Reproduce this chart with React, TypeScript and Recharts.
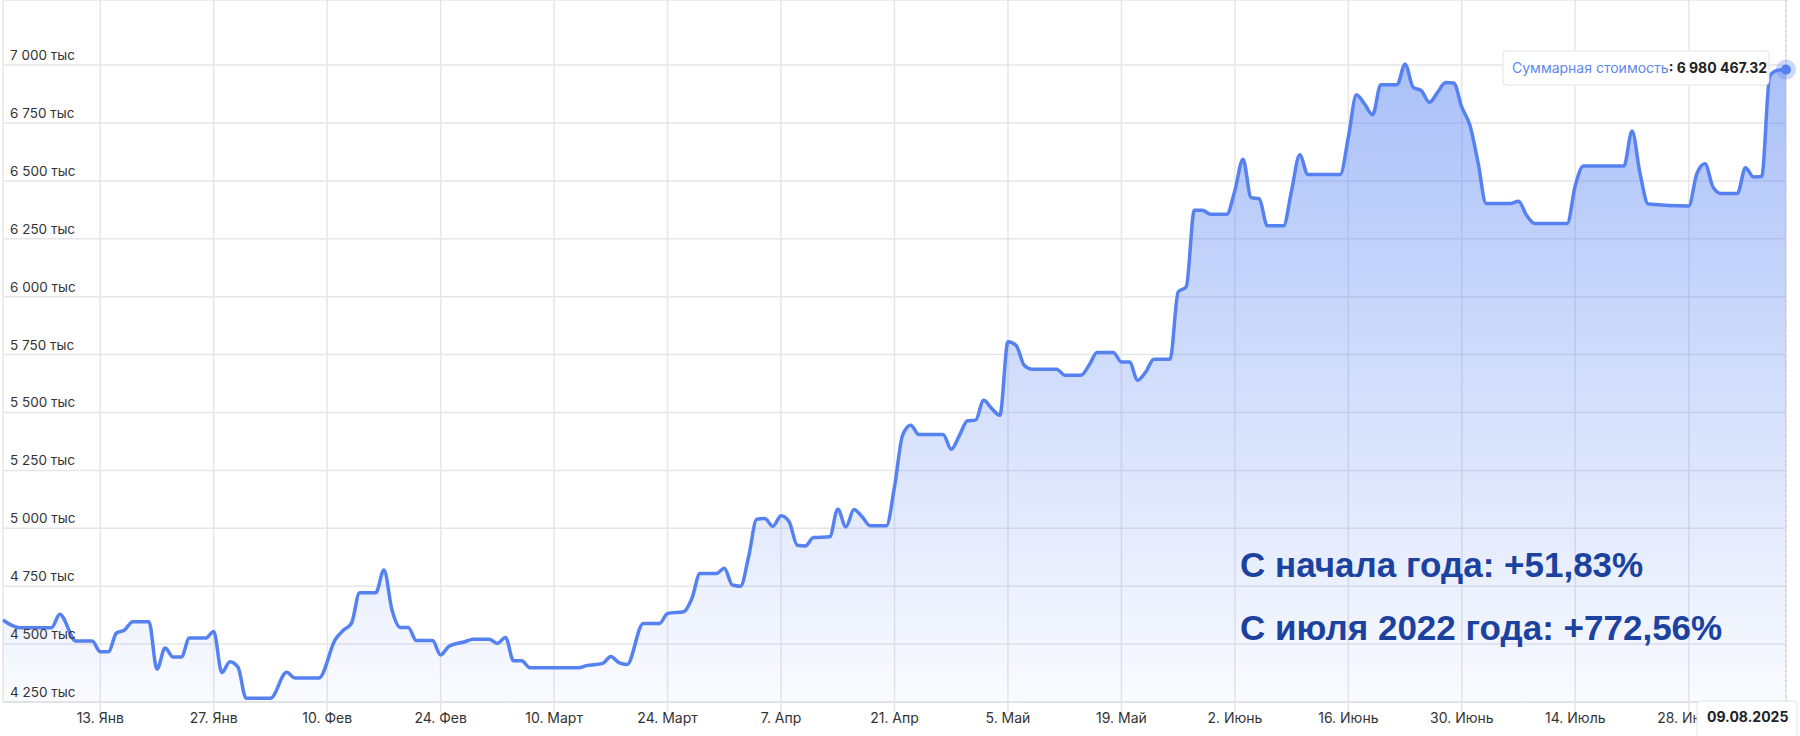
import React from 'react'
import {
  AreaChart,
  Area,
  XAxis,
  YAxis,
  CartesianGrid,
  ReferenceLine,
  ReferenceDot,
} from 'recharts'

// day index counted from 1 Jan 2025 (0) to 9 Aug 2025 (220)
const dayIndex = [
  0, 2, 6, 7, 9, 11, 12, 13, 14, 15, 16, 18, 19, 20, 21, 22, 23, 25, 26, 27, 28, 29, 30, 33, 35, 36, 39,
  41, 42, 43, 44, 46, 47, 48, 49, 50, 51, 53, 54, 55, 57, 58, 60, 61, 62, 63, 64, 65, 71, 72, 74, 75, 76,
  77, 79, 81, 82, 84, 85, 86, 88, 89, 90, 91, 92, 93, 94, 95, 96, 97, 98, 99, 100, 102, 103, 104, 105,
  106, 107, 109, 110, 111, 112, 113, 116, 117, 118, 119, 120, 121, 122, 123, 124, 125, 126, 127, 130,
  131, 133, 134, 135, 137, 138, 139, 140, 141, 142, 144, 145, 146, 147, 148, 149, 151, 152, 153, 154,
  155, 156, 158, 159, 160, 161, 165, 166, 167, 168, 169, 170, 172, 173, 174, 175, 176, 177, 178, 179,
  180, 181, 182, 183, 186, 187, 188, 189, 193, 194, 195, 200, 201, 202, 203, 208, 209, 210, 211, 212,
  214, 215, 216, 217, 218, 219, 220,
]

// total portfolio value, thousands of rubles
const totalValueK = [
  4604, 4571, 4571, 4629, 4513, 4513, 4467, 4467, 4548, 4561, 4597, 4597, 4392, 4483, 4444, 4444, 4526,
  4526, 4554, 4377, 4424, 4400, 4266, 4266, 4378, 4354, 4354,
  4520, 4560, 4590, 4722, 4722, 4820, 4647, 4572, 4572, 4515, 4515, 4453, 4490, 4510, 4521, 4521, 4503,
  4529, 4428, 4428, 4398, 4398, 4407, 4417, 4446, 4420,
  4412, 4589, 4589, 4632, 4640, 4697, 4805, 4805, 4827, 4755, 4750, 4877, 5039, 5042, 5009, 5054, 5028,
  4927, 4924, 4960, 4963, 5083, 5006, 5081,
  5050, 5011, 5011, 5179, 5402, 5445, 5405, 5405, 5341, 5400, 5464, 5467, 5553, 5517, 5488, 5805, 5790,
  5704, 5687, 5687,
  5661, 5661, 5704, 5759, 5759, 5718, 5718, 5639, 5675, 5730, 5730, 6020, 6043, 6373, 6373, 6356, 6356,
  6459, 6593, 6428,
  6423, 6306, 6306, 6459, 6613, 6528, 6528, 6689, 6872, 6832, 6786, 6915, 6915, 7004, 6904, 6890, 6839,
  6882, 6925, 6923,
  6818, 6740, 6580, 6402, 6402, 6412, 6351, 6316, 6316, 6480, 6564, 6564, 6715, 6530, 6400, 6392, 6531,
  6574, 6473, 6445,
  6445, 6557, 6517, 6519, 6954, 6978, 6980.46732,
]

const tickDays = [12, 26, 40, 54, 68, 82, 96, 110, 124, 138, 152, 166, 180, 194, 208]
const tickLabels = [
  '13. Янв', '27. Янв', '10. Фев', '24. Фев', '10. Март', '24. Март', '7. Апр', '21. Апр',
  '5. Май', '19. Май', '2. Июнь', '16. Июнь', '30. Июнь', '14. Июль', '28. Июль',
]
const yTicks = [
  4250000, 4500000, 4750000, 5000000, 5250000, 5500000, 5750000, 6000000, 6250000, 6500000,
  6750000, 7000000,
]

const seriesName = 'Суммарная стоимость'
const lastValueText = '6 980 467.32'
const lastDateText = '09.08.2025'
const notes = ['С начала года: +51,83%', 'С июля 2022 года: +772,56%']

const data = dayIndex.map((d, i) => ({ day: d, value: totalValueK[i] * 1000 }))
const last = data[data.length - 1]

const LINE = '#5581f1'
const GRID = '#e6e6ea'
const FONT = 'Inter, "Noto Sans", sans-serif'

function groupThousands(n: number): string {
  return String(Math.round(n)).replace(/\B(?=(\d{3})+(?!\d))/g, ' ')
}

function YTick({ y, payload }: any) {
  return (
    <text x={10} y={y - 5} fontSize={13.5} fill="#333" fontFamily={FONT} textAnchor="start">
      {groupThousands(payload.value / 1000)} тыс
    </text>
  )
}

function XTick({ x, payload }: any) {
  const idx = tickDays.indexOf(payload.value)
  return (
    <text x={x} y={723} fontSize={14} fill="#333" fontFamily={FONT} textAnchor="middle">
      {tickLabels[idx]}
    </text>
  )
}

export default function App() {
  return (
    <div style={{ position: 'absolute', left: 0, top: 0, width: 1800, height: 736, background: '#fff' }}>
      <AreaChart
        width={1800}
        height={736}
        data={data}
        margin={{ top: 0, right: 14, left: 3, bottom: 0 }}
      >
        <defs>
          <linearGradient id="valueFill" x1="0" y1="0" x2="0" y2="1">
            <stop offset="0%" stopColor={LINE} stopOpacity={0.5} />
            <stop offset="100%" stopColor={LINE} stopOpacity={0.03} />
          </linearGradient>
        </defs>
        <CartesianGrid stroke={GRID} strokeWidth={1.5} />
        <XAxis
          dataKey="day"
          type="number"
          domain={[0, 220]}
          ticks={tickDays}
          height={34}
          tickSize={10}
          tickLine={{ stroke: GRID, strokeWidth: 1.5 }}
          axisLine={{ stroke: '#e2e2e4', strokeWidth: 2 }}
          tick={<XTick />}
          interval={0}
        />
        <YAxis
          type="number"
          domain={[4250000, 7281000]}
          allowDataOverflow
          ticks={yTicks}
          mirror
          width={80}
          axisLine={false}
          tickLine={false}
          tick={<YTick />}
          interval={0}
        />
        <ReferenceLine x={220} stroke="#c8c8cc" strokeDasharray="2 3" />
        <Area
          type="monotone"
          dataKey="value"
          stroke={LINE}
          strokeWidth={3.5}
          fill="url(#valueFill)"
          fillOpacity={1}
          dot={false}
          activeDot={false}
          isAnimationActive={false}
        />
        <ReferenceDot x={last.day} y={last.value} r={10} fill={LINE} fillOpacity={0.3} stroke="none" />
        <ReferenceDot x={last.day} y={last.value} r={5} fill={LINE} stroke="none" />
      </AreaChart>
      <svg
        width={1800}
        height={736}
        style={{ position: 'absolute', left: 0, top: 0, pointerEvents: 'none' }}
      >
        <rect x={1503} y={51} width={266} height={34} rx={4} fill="#fff" fillOpacity={0.95} stroke="#e2e2e4" />
        <text x={1512} y={73} fontSize={14} fontFamily={FONT}>
          <tspan fill="#6088f0">{seriesName}</tspan>
          <tspan fill="#222" fontWeight={700}>: {lastValueText}</tspan>
        </text>
        <rect x={1697} y={701} width={100} height={40} rx={3} fill="#fff" stroke="#e2e2e4" />
        <text x={1707} y={722} fontSize={14} fontWeight={700} fill="#222" fontFamily={FONT}>
          {lastDateText}
        </text>
        <text
          x={1240}
          y={577}
          fontSize={35}
          fontWeight={700}
          fill="#1c42a0"
          fontFamily='"Liberation Sans", Arial, sans-serif'
        >
          {notes[0]}
        </text>
        <text
          x={1240}
          y={640}
          fontSize={35}
          fontWeight={700}
          fill="#1c42a0"
          fontFamily='"Liberation Sans", Arial, sans-serif'
        >
          {notes[1]}
        </text>
      </svg>
    </div>
  )
}
